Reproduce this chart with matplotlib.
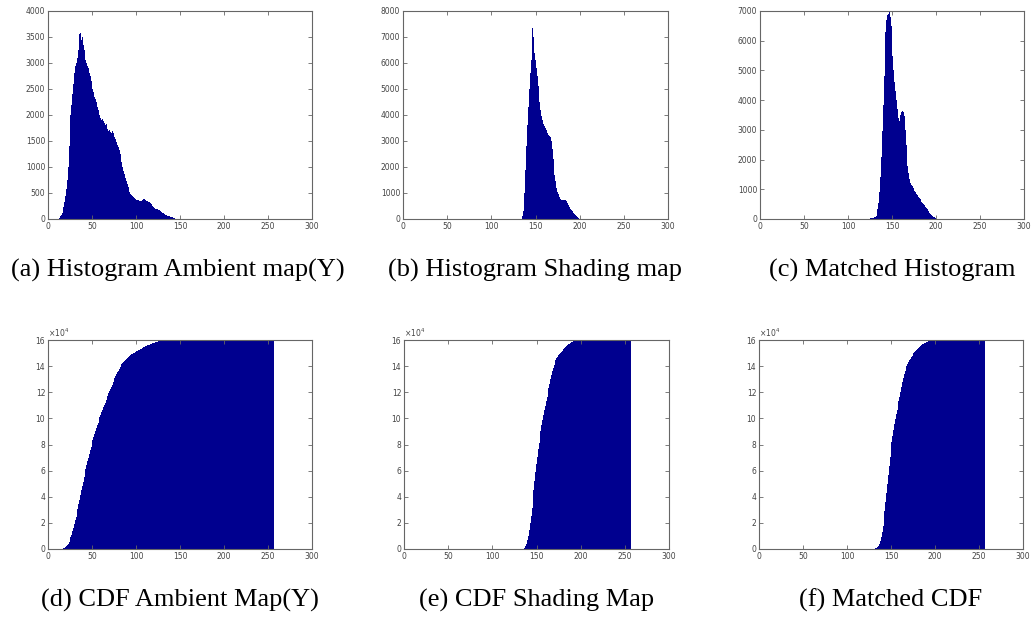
import numpy as np
import matplotlib.pyplot as plt
from matplotlib.ticker import FuncFormatter

# histogram counts per gray level (only the non-empty range is listed)
ambient_start = 12
ambient_counts = [
    20, 50, 80, 120, 160, 230, 330, 450, 580,
    750, 1000, 1400, 1700, 2000, 2200, 2400, 2600, 2800, 2950,
    3000, 3050, 3100, 3250, 3550, 3580, 3450, 3500, 3350, 3250,
    3100, 3050, 3000, 2950, 2900, 2800, 2750, 2650, 2600, 2500,
    2450, 2350, 2300, 2250, 2150, 2100, 2050, 2000, 1950, 1900,
    1920, 1880, 1850, 1800, 1820, 1780, 1740, 1700, 1720, 1680,
    1650, 1690, 1660, 1620, 1580, 1530, 1480, 1420, 1380, 1330,
    1250, 1180, 1100, 1000, 930, 860, 790, 730, 670, 610,
    560, 520, 490, 460, 440, 420, 400, 390, 380, 370,
    360, 360, 350, 350, 340, 360, 380, 390, 380, 360,
    350, 340, 330, 320, 300, 290, 280, 250, 230, 210,
    200, 200, 190, 190, 180, 170, 150, 140, 120, 110,
    100, 90, 80, 70, 60, 55, 50, 40, 35, 30, 20, 15, 10, 5,
]

shading_start = 134
shading_counts = [
    100, 300, 600, 1000, 1900, 2800, 3600, 4300, 5000, 5600,
    6100, 6800, 7330, 7000, 6400, 6100, 5800, 5500, 5100, 4800,
    4500, 4200, 3950, 3800, 3650, 3580, 3500, 3420, 3370, 3300,
    3250, 3200, 3150, 3000, 2700, 2300, 2000, 1700, 1450, 1200,
    1050, 950, 850, 780, 720, 700, 720, 740, 750, 720,
    680, 620, 530, 460, 420, 380, 340, 300, 250, 200,
    170, 130, 90, 60, 30, 10,
]

matched_start = 124
matched_counts = [
    20, 30, 40, 40, 50, 60, 70,
    100, 180, 330, 550, 900, 1400, 2100, 2950, 3850, 4800,
    5700, 6300, 6700, 6850, 6900, 6950, 6800, 6500, 6000, 5500,
    5000, 4600, 4300, 4000, 3700, 3400, 3200, 3300, 3500, 3600,
    3650, 3600, 3450, 3000, 2500, 2100, 1800, 1550, 1350, 1200,
    1150, 1100, 1050, 1000, 950, 900, 850, 800, 750, 700,
    660, 620, 580, 540, 500, 460, 420, 380, 330, 280,
    230, 200, 170, 140, 110, 80, 60, 40, 25, 10,
]

hist_titles = ["(a) Histogram Ambient map(Y)", "(b) Histogram Shading map", "(c) Matched Histogram"]
cdf_titles = ["(d) CDF Ambient Map(Y)", "(e) CDF Shading Map", "(f) Matched CDF"]
hist_ymax = [4000, 8000, 7000]
hist_ystep = [500, 1000, 1000]

BAR = "#00008F"
GRAY = "#444444"


def full_hist(start, counts):
    h = np.zeros(256)
    h[start:start + len(counts)] = counts
    return h


hists = [
    full_hist(ambient_start, ambient_counts),
    full_hist(shading_start, shading_counts),
    full_hist(matched_start, matched_counts),
]
levels = np.arange(1, 257)  # matlab style 1-based bins

fig = plt.figure(figsize=(10.32, 6.21), dpi=100)
W, H = 1032, 621

# axes boxes in pixels: left, right, top, bottom
top_boxes = [(48, 312, 11, 219), (403, 668, 11, 219), (760, 1024, 11, 219)]
bot_boxes = [(48, 312, 340, 549), (404, 669, 340, 549), (759, 1023, 340, 549)]


def make_ax(box):
    l, r, t, b = box
    ax = fig.add_axes([l / W, 1 - b / H, (r - l) / W, (b - t) / H])
    for s in ax.spines.values():
        s.set_color("#666666")
        s.set_linewidth(0.8)
    ax.tick_params(direction="in", length=3, width=0.6, colors="#666666",
                   labelcolor=GRAY, labelsize=5.5, top=True, right=True, pad=2)
    ax.set_xlim(0, 300)
    ax.set_xticks(np.arange(0, 301, 50))
    return ax


for i in range(3):
    ax = make_ax(top_boxes[i])
    ax.bar(levels, hists[i], width=1.0, color=BAR, linewidth=0)
    ax.set_ylim(0, hist_ymax[i])
    ax.set_yticks(np.arange(0, hist_ymax[i] + 1, hist_ystep[i]))
    l, r, t, b = top_boxes[i]
    fig.text((l + r) / 2 / W - 0.002 * (i == 0), 1 - 270 / H, hist_titles[i],
             ha="center", va="center", fontsize=19, family="Liberation Serif")

for i in range(3):
    ax = make_ax(bot_boxes[i])
    cdf = np.cumsum(hists[i])
    ax.bar(levels, cdf, width=1.0, color=BAR, linewidth=0)
    ax.set_ylim(0, 16e4)
    ax.set_yticks(np.arange(0, 16e4 + 1, 2e4))
    ax.yaxis.set_major_formatter(FuncFormatter(lambda v, p: f"{v / 1e4:g}"))
    ax.text(0.0, 1.005, r"$\times10^{4}$", transform=ax.transAxes, fontsize=5.5,
            color=GRAY, ha="left", va="bottom")
    l, r, t, b = bot_boxes[i]
    fig.text((l + r) / 2 / W, 1 - 600 / H, cdf_titles[i],
             ha="center", va="center", fontsize=19, family="Liberation Serif")

plt.savefig("out.png", dpi=100)
plt.close()
